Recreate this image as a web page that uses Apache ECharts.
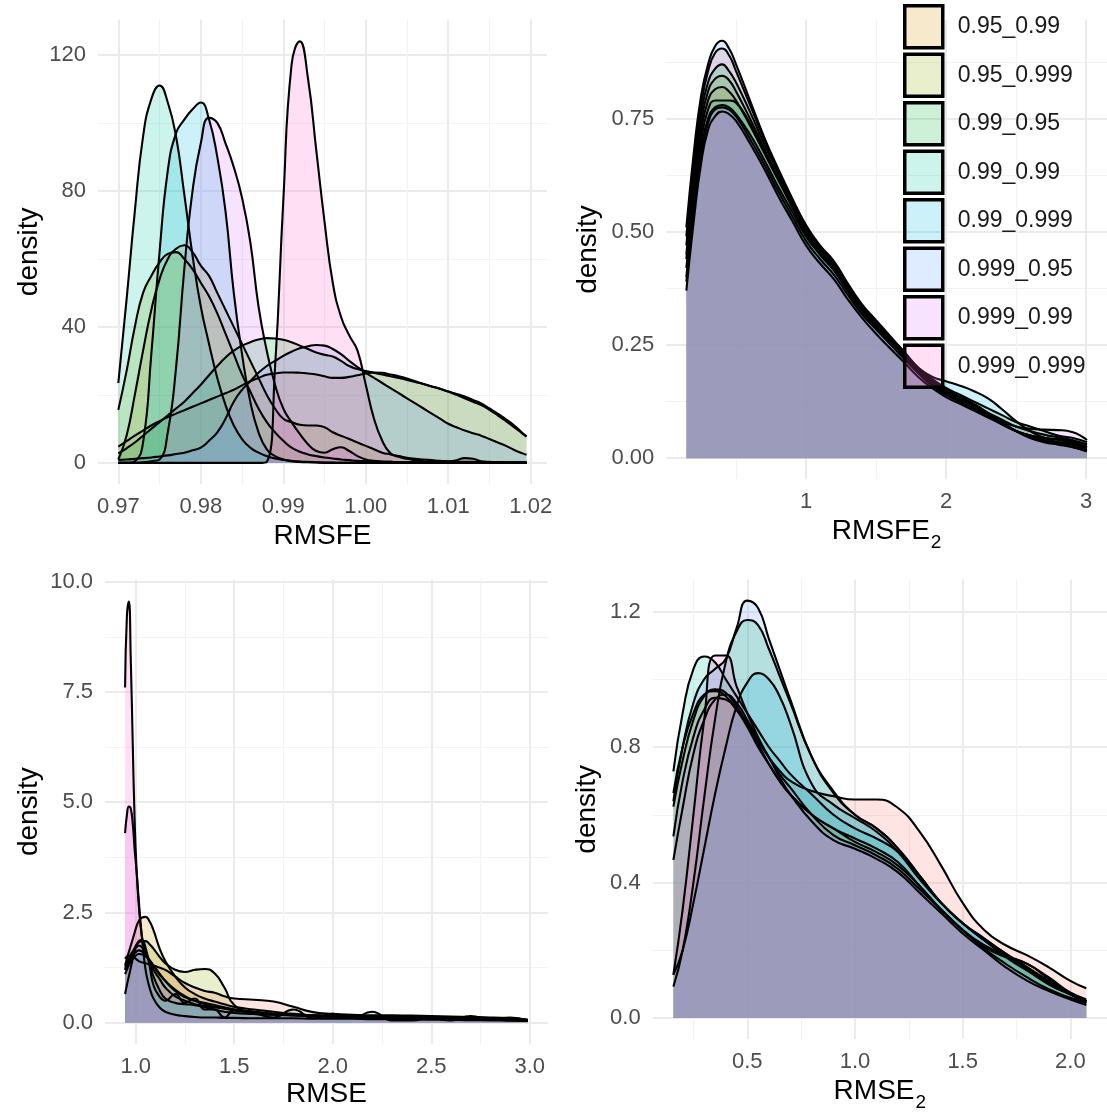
<!DOCTYPE html>
<html>
<head>
<meta charset="utf-8">
<script src="https://cdn.jsdelivr.net/npm/echarts@6/dist/echarts.min.js"></script>
<style>html,body{margin:0;padding:0;background:#fff}#chart{width:1107px;height:1113px}</style>
</head>
<body>
<div id="chart"></div>
<script>
// ---------- groups ----------
const groups = ['0.95_0.95','0.95_0.99','0.95_0.999','0.99_0.95','0.99_0.99','0.99_0.999','0.999_0.95','0.999_0.99','0.999_0.999'];
const groupColors = ['#F8766D','#D39200','#93AA00','#00BA38','#00C19F','#00B9E3','#619CFF','#DB72FB','#FF61C3'];
const legendGroups = groups.slice(1); // entries visible in the picture

// ---------- panel 1 : RMSFE ----------
const rmsfeX = [0.970,0.971,0.972,0.973,0.974,0.975,0.976,0.977,0.978,0.979,0.980,0.981,0.982,0.983,0.984,0.985,0.986,0.987,0.988,0.989,0.990,0.991,0.992,0.993,0.994,0.995,0.996,0.997,0.998,0.999,1.000,1.001,1.002,1.003,1.004,1.005,1.006,1.007,1.008,1.009,1.010,1.011,1.012,1.013,1.014,1.015,1.016,1.017,1.018,1.019,1.0195];
const rmsfeDensity = [
 [4.8,6.4,8,9.5,11,12.3,13.5,14.5,15.5,16.5,17.5,18.5,19.5,20.5,21.5,22.8,24,25,25.9,26.3,26.6,26.6,26.5,26.3,26,25.5,25,25,25.3,25.8,26.3,26.6,26.5,26,25.5,24.8,24,23.2,22.5,21.8,21,20.3,19.5,18.5,17.5,16,14.5,12.8,11,8.8,7.8],
 [1,8,20,33,45,54,60,63,64,62,58,55,50,45,40,35,30,25,20,16,13,12,11.2,11,11,10.5,9,8,7,6,5,4,3,2.5,2,1.5,1.2,1,0.8,0.6,0.5,0.4,0.3,0.3,0.2,0.2,0.2,0.1,0.1,0.1,0.1],
 [15.6,27,40,50,55,59,61.5,62,60,57,53,49,44,38,32,26,21,16,12,9,6.5,4.5,3.3,2.5,2,1.6,1.3,1,0.8,0.6,0.5,0.4,0.3,0.3,0.2,0.2,0.2,0.1,0.1,0.1,0.1,0.1,0.1,0.1,0.1,0.1,0.1,0.1,0.1,0.1,0.1],
 [2.8,4.3,6,8,10,12,14,16,18,20.5,23,25.8,28.5,31,33,34.5,35.5,36.3,36.7,36.6,36.2,35.5,34.5,33.5,32.5,31.8,31.3,30,28.5,27.6,27,26.5,26,25.5,25,24.4,23.8,23.2,22.5,21.8,21,20,19,18,17,15.6,14,12.3,10.5,8.6,7.7],
 [23.5,48,74,96,107,111,106,96,79,61,46,35,25,17,11,7,4.5,3,2,1.3,0.9,0.6,0.4,0.3,0.2,0.1,0.1,0,0,0,0,0,0,0,0,0,0,0,0,0,0,0,0,0,0,0,0,0,0,0,0],
 [0,0,0.5,6,32,62,86,97,101,104,106,101,90,74,50,32,18,9,4,2,1,0.5,0.3,0.2,0.1,0,0,0,0,0,0,0,0,0,0,0,0,0,0,0,0,0,0,0,0,0,0,0,0,0,0],
 [0.9,1,1.2,1.4,1.6,1.9,2.2,2.6,3,3.7,4.5,6.5,9,13,18,21.5,24,26.5,28.5,30,31.5,32.7,33.7,34.3,34.7,34.5,33.5,32,30,28.2,26.5,25,23.5,22,20.5,19,17.5,16,14.5,13,11.5,10.5,9.5,8.7,8,7,6,5,3.8,2.8,2.4],
 [0,0,0,0.2,0.5,1,9,28,57,80,94,101.5,100,94,87,78,65,46,33,23,16,12,8.5,5.5,3.5,3,4,4.6,3.5,2,1,0.6,0.4,0.3,0.2,0.2,0.1,0.1,0.1,0.1,0.1,0.1,0.1,0.1,0.1,0.1,0.1,0.1,0.1,0.1,0.1],
 [0,0,0,0,0,0,0,0,0,0,0,0,0,0,0,0,0,0,0.3,28,77,117,124,113,92,71,53,43,37.5,33,23,13,6.5,2.8,1.8,1.2,0.8,0.5,0.4,0.3,0.4,0.8,1.4,1.2,0.5,0.3,0.2,0.1,0.1,0.1,0.1]
];
const rmsfeXTicks = [0.97,0.98,0.99,1.00,1.01,1.02];
const rmsfeXMinor = [0.975,0.985,0.995,1.005,1.015];
const rmsfeYTicks = [0,40,80,120];
const rmsfeYMinor = [20,60,100];

// ---------- panel 2 : RMSFE2 ----------
const rmsfe2X = [0.145,0.2,0.25,0.3,0.35,0.4,0.45,0.5,0.6,0.7,0.8,0.9,1.0,1.1,1.2,1.3,1.4,1.5,1.6,1.7,1.8,1.9,2.0,2.1,2.2,2.3,2.4,2.5,2.6,2.7,2.8,2.9,3.007];
const rmsfe2Density = [
 [0.49,0.66,0.78,0.855,0.895,0.905,0.89,0.855,0.78,0.705,0.635,0.57,0.51,0.465,0.43,0.38,0.335,0.3,0.265,0.23,0.195,0.165,0.145,0.13,0.115,0.095,0.075,0.06,0.05,0.045,0.042,0.038,0.03],
 [0.44,0.6,0.72,0.79,0.815,0.82,0.81,0.79,0.735,0.675,0.615,0.555,0.495,0.45,0.415,0.37,0.325,0.29,0.258,0.225,0.19,0.162,0.142,0.125,0.11,0.092,0.075,0.06,0.05,0.045,0.04,0.035,0.025],
 [0.45,0.62,0.74,0.81,0.838,0.845,0.835,0.81,0.75,0.685,0.62,0.56,0.5,0.455,0.42,0.375,0.33,0.295,0.262,0.228,0.195,0.168,0.148,0.13,0.115,0.1,0.085,0.07,0.06,0.052,0.046,0.04,0.03],
 [0.47,0.64,0.76,0.83,0.86,0.87,0.855,0.83,0.765,0.695,0.63,0.565,0.505,0.46,0.425,0.38,0.335,0.3,0.268,0.235,0.2,0.175,0.155,0.14,0.125,0.11,0.095,0.08,0.07,0.06,0.05,0.045,0.035],
 [0.42,0.58,0.7,0.77,0.79,0.79,0.79,0.785,0.74,0.68,0.62,0.56,0.5,0.455,0.42,0.372,0.328,0.292,0.26,0.228,0.195,0.17,0.15,0.135,0.118,0.098,0.078,0.06,0.045,0.035,0.03,0.025,0.018],
 [0.4,0.56,0.68,0.75,0.775,0.78,0.775,0.76,0.715,0.66,0.6,0.545,0.49,0.45,0.415,0.368,0.325,0.292,0.262,0.232,0.2,0.18,0.17,0.16,0.148,0.132,0.108,0.082,0.06,0.045,0.035,0.03,0.022],
 [0.51,0.68,0.8,0.87,0.91,0.922,0.905,0.87,0.79,0.71,0.64,0.575,0.515,0.47,0.435,0.385,0.34,0.305,0.27,0.235,0.2,0.17,0.15,0.135,0.12,0.1,0.08,0.06,0.045,0.038,0.035,0.033,0.025],
 [0.39,0.55,0.67,0.74,0.77,0.775,0.77,0.755,0.705,0.65,0.59,0.535,0.48,0.44,0.405,0.36,0.318,0.285,0.252,0.22,0.188,0.16,0.14,0.125,0.11,0.095,0.08,0.07,0.065,0.063,0.062,0.058,0.04],
 [0.37,0.53,0.65,0.725,0.755,0.766,0.76,0.745,0.695,0.64,0.58,0.525,0.47,0.43,0.395,0.35,0.31,0.275,0.243,0.212,0.18,0.155,0.135,0.12,0.105,0.09,0.075,0.06,0.05,0.04,0.032,0.025,0.015]
];
const rmsfe2XTicks = [1,2,3];
const rmsfe2XMinor = [0.5,1.5,2.5];
const rmsfe2YTicks = [0,0.25,0.5,0.75];
const rmsfe2YMinor = [0.125,0.375,0.625,0.875];

// ---------- panel 3 : RMSE ----------
const rmseX = [0.946,0.955,0.965,0.975,0.985,0.995,1.005,1.015,1.03,1.05,1.07,1.09,1.12,1.15,1.2,1.25,1.3,1.35,1.4,1.45,1.5,1.6,1.7,1.8,1.9,2.0,2.1,2.2,2.3,2.4,2.5,2.6,2.7,2.8,2.9,2.99];
const rmseDensity = [
 [1.45,1.5,1.52,1.52,1.5,1.47,1.43,1.4,1.37,1.35,1.32,1.3,1.25,1.2,1.05,0.9,0.8,0.72,0.68,0.6,0.55,0.52,0.48,0.36,0.24,0.2,0.18,0.17,0.17,0.16,0.15,0.14,0.13,0.12,0.1,0.07],
 [1.3,1.45,1.6,1.75,1.9,2.05,2.2,2.3,2.38,2.4,2.3,2.1,1.7,1.4,1.05,0.8,0.65,0.55,0.48,0.42,0.36,0.3,0.25,0.2,0.17,0.15,0.14,0.13,0.12,0.12,0.11,0.1,0.1,0.09,0.08,0.06],
 [1.2,1.3,1.4,1.5,1.6,1.7,1.78,1.82,1.85,1.85,1.78,1.68,1.5,1.35,1.2,1.15,1.2,1.22,1.12,0.8,0.4,0.2,0.18,0.17,0.17,0.16,0.15,0.15,0.14,0.13,0.12,0.11,0.1,0.09,0.08,0.06],
 [1.1,1.2,1.3,1.38,1.45,1.5,1.54,1.56,1.55,1.5,1.42,1.3,1.12,0.95,0.72,0.58,0.5,0.45,0.4,0.35,0.3,0.25,0.2,0.17,0.16,0.15,0.15,0.14,0.14,0.13,0.12,0.11,0.1,0.09,0.07,0.05],
 [0.65,0.85,1.05,1.25,1.45,1.62,1.75,1.85,1.88,1.7,1.3,0.85,0.6,0.5,0.65,0.45,0.55,0.3,0.3,0.12,0.28,0.22,0.12,0.3,0.1,0.2,0.1,0.25,0.05,0.05,0.1,0.05,0.15,0.08,0.12,0.05],
 [1.25,1.35,1.45,1.55,1.62,1.68,1.72,1.75,1.72,1.6,1.35,1.05,0.75,0.55,0.45,0.42,0.4,0.35,0.3,0.25,0.22,0.2,0.18,0.17,0.15,0.14,0.12,0.1,0.1,0.1,0.09,0.08,0.07,0.06,0.05,0.04],
 [1.2,1.28,1.36,1.44,1.52,1.58,1.62,1.64,1.62,1.55,1.42,1.28,1.1,0.95,0.75,0.6,0.5,0.42,0.36,0.32,0.28,0.24,0.2,0.18,0.16,0.15,0.14,0.13,0.12,0.11,0.1,0.09,0.08,0.07,0.06,0.04],
 [4.3,4.7,4.9,4.85,4.5,3.9,3.4,2.8,2.0,1.2,0.8,0.55,0.35,0.25,0.18,0.15,0.13,0.12,0.12,0.11,0.11,0.1,0.1,0.1,0.09,0.09,0.09,0.08,0.08,0.08,0.07,0.07,0.06,0.06,0.05,0.05],
 [7.6,9.2,9.55,8.2,6.3,4.5,3.4,2.7,2.0,1.6,1.4,1.2,1.0,0.8,0.6,0.5,0.42,0.38,0.35,0.33,0.3,0.25,0.2,0.17,0.15,0.13,0.12,0.12,0.11,0.1,0.1,0.09,0.08,0.08,0.07,0.06]
];
const rmseXTicks = [1.0,1.5,2.0,2.5,3.0];
const rmseXMinor = [1.25,1.75,2.25,2.75];
const rmseYTicks = [0,2.5,5,7.5,10];
const rmseYMinor = [1.25,3.75,6.25,8.75];

// ---------- panel 4 : RMSE2 ----------
const rmse2X = [0.157,0.2,0.25,0.3,0.35,0.4,0.45,0.5,0.55,0.6,0.65,0.7,0.8,0.9,1.0,1.1,1.2,1.3,1.4,1.5,1.6,1.7,1.8,1.9,2.0,2.074];
const rmse2Density = [
 [0.467,0.62,0.78,0.88,0.94,0.955,0.93,0.88,0.82,0.77,0.73,0.7,0.67,0.655,0.645,0.645,0.62,0.55,0.45,0.34,0.26,0.215,0.185,0.15,0.11,0.088],
 [0.624,0.76,0.88,0.95,0.97,0.96,0.92,0.87,0.81,0.75,0.7,0.66,0.6,0.56,0.53,0.5,0.46,0.39,0.32,0.26,0.21,0.18,0.16,0.115,0.07,0.045],
 [0.664,0.8,0.9,0.955,0.965,0.95,0.91,0.86,0.8,0.75,0.7,0.66,0.6,0.56,0.52,0.49,0.45,0.39,0.32,0.26,0.215,0.185,0.16,0.12,0.075,0.05],
 [0.093,0.2,0.4,0.65,0.88,1.05,1.14,1.175,1.16,1.09,1.01,0.93,0.77,0.67,0.6,0.56,0.5,0.42,0.34,0.28,0.235,0.19,0.15,0.105,0.07,0.05],
 [0.728,0.9,1.03,1.067,1.05,1.0,0.95,0.9,0.85,0.8,0.76,0.72,0.66,0.6,0.56,0.53,0.49,0.42,0.34,0.28,0.23,0.18,0.14,0.1,0.07,0.05],
 [0.128,0.2,0.34,0.5,0.66,0.8,0.92,0.99,1.018,1.0,0.95,0.87,0.69,0.63,0.59,0.55,0.49,0.41,0.34,0.28,0.23,0.185,0.145,0.1,0.07,0.05],
 [0.64,0.8,0.93,1.0,1.03,1.06,1.15,1.232,1.21,1.12,1.03,0.94,0.77,0.665,0.6,0.56,0.5,0.42,0.34,0.28,0.235,0.19,0.15,0.11,0.075,0.055],
 [0.536,0.7,0.83,0.91,0.945,0.94,0.91,0.87,0.82,0.77,0.71,0.66,0.58,0.525,0.5,0.47,0.43,0.37,0.31,0.25,0.2,0.15,0.11,0.08,0.055,0.039],
 [0.128,0.32,0.6,0.88,1.07,1.07,0.98,0.9,0.83,0.77,0.72,0.68,0.6,0.54,0.51,0.48,0.44,0.38,0.32,0.26,0.205,0.16,0.12,0.085,0.06,0.045]
];
const rmse2XTicks = [0.5,1.0,1.5,2.0];
const rmse2XMinor = [0.25,0.75,1.25,1.75];
const rmse2YTicks = [0,0.4,0.8,1.2];
const rmse2YMinor = [0.2,0.6,1.0];

// ---------- helpers ----------
function rgba(hex, a) {
  const n = parseInt(hex.slice(1), 16);
  return 'rgba(' + ((n >> 16) & 255) + ',' + ((n >> 8) & 255) + ',' + (n & 255) + ',' + a + ')';
}
const FONT = '"Liberation Sans", Arial, Helvetica, sans-serif';
const TICK_STYLE = { color: '#4D4D4D', fontSize: 22, fontFamily: FONT };
const MAJOR = { color: '#EBEBEB', width: 2 };
const MINOR = { color: '#F2F2F2', width: 1.2 };

const panels = [
  { xs: rmsfeX, ys: rmsfeDensity, grid: { left: 97.9, top: 19.6, width: 449.1, height: 464.4 },
    xMin: 0.967525, xMax: 1.021975, yMin: -6.21, yMax: 130.4,
    xt: rmsfeXTicks, xm: rmsfeXMinor, yt: rmsfeYTicks, ym: rmsfeYMinor, xd: 2, yd: 0,
    xName: 'RMSFE', sub: false, xGap: 38, yGap: 55 },
  { xs: rmsfe2X, ys: rmsfe2Density, grid: { left: 666.3, top: 20, width: 440.7, height: 459 },
    xMin: 0.0018, xMax: 3.15, yMin: -0.046, yMax: 0.968,
    xt: rmsfe2XTicks, xm: rmsfe2XMinor, yt: rmsfe2YTicks, ym: rmsfe2YMinor, xd: 0, yd: 2,
    xName: 'RMSFE', sub: true, xGap: 38, yGap: 64 },
  { xs: rmseX, ys: rmseDensity, grid: { left: 105, top: 579.5, width: 442.9, height: 464.4 },
    xMin: 0.844, xMax: 3.092, yMin: -0.48, yMax: 10.05,
    xt: rmseXTicks, xm: rmseXMinor, yt: rmseYTicks, ym: rmseYMinor, xd: 1, yd: 1,
    xName: 'RMSE', sub: false, xGap: 36, yGap: 62 },
  { xs: rmse2X, ys: rmse2Density, grid: { left: 652.7, top: 579.6, width: 454.7, height: 459.5 },
    xMin: 0.061, xMax: 2.17, yMin: -0.0616, yMax: 1.294,
    xt: rmse2XTicks, xm: rmse2XMinor, yt: rmse2YTicks, ym: rmse2YMinor, xd: 1, yd: 1,
    xName: 'RMSE', sub: true, xGap: 38, yGap: 51 }
];

const grids = [], xAxes = [], yAxes = [], series = [];
panels.forEach((p, k) => {
  grids.push(Object.assign({ containLabel: false }, p.grid));
  const nameCfg = p.sub
    ? { name: '{a|' + p.xName + '}{b|2}',
        nameTextStyle: { rich: {
          a: { fontSize: 28, color: '#000', fontFamily: FONT, padding: [0, 0, 7, 0], verticalAlign: 'bottom' },
          b: { fontSize: 19, color: '#000', fontFamily: FONT, padding: [0, 0, 0, 1], verticalAlign: 'bottom' } } } }
    : { name: p.xName, nameTextStyle: { fontSize: 28, color: '#000', fontFamily: FONT } };
  xAxes.push(Object.assign({
    type: 'value', gridIndex: k, position: 'bottom', min: p.xMin, max: p.xMax,
    nameLocation: 'middle', nameGap: p.xGap,
    axisLine: { show: false }, axisTick: { show: false, customValues: p.xt },
    axisLabel: Object.assign({ customValues: p.xt, margin: 12, formatter: v => v.toFixed(p.xd) }, TICK_STYLE),
    splitLine: { show: true, lineStyle: MAJOR }
  }, nameCfg));
  xAxes.push({
    type: 'value', gridIndex: k, position: 'top', min: p.xMin, max: p.xMax,
    axisLine: { show: false }, axisTick: { show: false, customValues: p.xm },
    axisLabel: { show: false }, splitLine: { show: true, lineStyle: MINOR }
  });
  yAxes.push({
    type: 'value', gridIndex: k, position: 'left', min: p.yMin, max: p.yMax,
    name: 'density', nameLocation: 'middle', nameGap: p.yGap,
    nameTextStyle: { fontSize: 28, color: '#000', fontFamily: FONT },
    axisLine: { show: false }, axisTick: { show: false, customValues: p.yt },
    axisLabel: Object.assign({ customValues: p.yt, margin: 12, formatter: v => v.toFixed(p.yd) }, TICK_STYLE),
    splitLine: { show: true, lineStyle: MAJOR }
  });
  yAxes.push({
    type: 'value', gridIndex: k, position: 'right', min: p.yMin, max: p.yMax,
    axisLine: { show: false }, axisTick: { show: false, customValues: p.ym },
    axisLabel: { show: false }, splitLine: { show: true, lineStyle: MINOR }
  });
  p.ys.forEach((arr, g) => {
    series.push({
      type: 'line', name: groups[g], xAxisIndex: 2 * k, yAxisIndex: 2 * k,
      data: p.xs.map((x, i) => [x, arr[i]]),
      smooth: 0.5, symbol: 'none', showSymbol: false,
      lineStyle: { color: '#000', width: 2.1 },
      itemStyle: { color: rgba(groupColors[g], 0.2) },
      areaStyle: { color: rgba(groupColors[g], 0.2), opacity: 1 },
      emphasis: { disabled: true }, silent: true
    });
  });
});

const chart = echarts.init(document.getElementById('chart'), null, { renderer: 'canvas' });
chart.setOption({
  animation: false,
  backgroundColor: '#ffffff',
  textStyle: { fontFamily: FONT },
  grid: grids, xAxis: xAxes, yAxis: yAxes, series: series,
  legend: {
    orient: 'vertical', left: 903, top: 4, padding: 0,
    itemWidth: 38, itemHeight: 42, itemGap: 3, icon: 'rect', selectedMode: false,
    textStyle: { fontSize: 23, color: '#1A1A1A', fontFamily: FONT, padding: [0, 0, 0, 10] },
    data: legendGroups.map(g => ({
      name: g,
      itemStyle: { color: rgba(groupColors[groups.indexOf(g)], 0.2), borderColor: '#000', borderWidth: 3.5 }
    }))
  }
});
</script>
</body>
</html>
